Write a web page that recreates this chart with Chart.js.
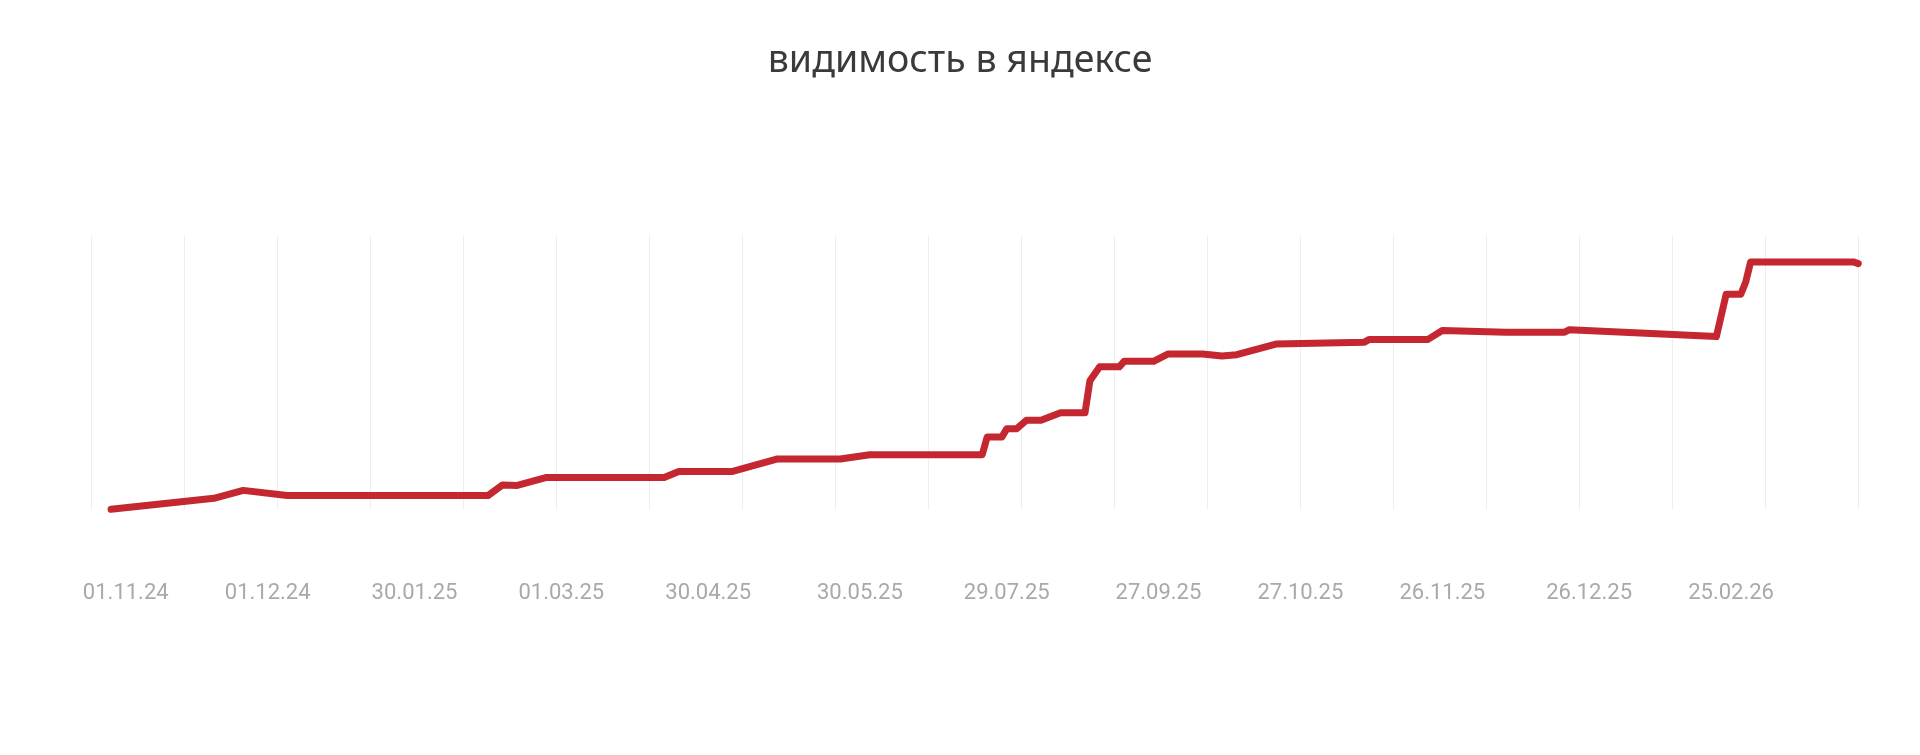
<!DOCTYPE html>
<html lang="ru">
<head>
<meta charset="utf-8">
<title>видимость в яндексе</title>
<script src="https://cdn.jsdelivr.net/npm/chart.js@4.4.1/dist/chart.umd.min.js"></script>
<style>
    html, body { margin: 0; padding: 0; background: #fff; }
    #wrap { width: 1920px; height: 755px; position: relative; }
</style>
</head>
<body>
<div id="wrap"><canvas id="visChart"></canvas></div>
<script>
// номер замера (точки перелома линии) и видимость, условные единицы 0..100
const idx = [4, 25, 31, 40, 81, 84, 87, 93, 117, 120, 131, 140, 153, 159, 182, 183, 186, 187, 189, 191,
    194, 198, 203, 204, 206, 210, 211, 217, 220, 227, 231, 234, 242, 260, 261, 273, 276, 289, 301, 302,
    332, 334, 337, 338, 339, 360, 361];
const vis = [0.1, 4.1, 7.0, 5.1, 5.1, 9.0, 8.8, 11.7, 11.7, 13.9, 13.9, 18.4, 18.4, 20.0, 20.0, 26.4, 26.4, 29.4, 29.4, 32.5,
    32.5, 35.3, 35.3, 46.9, 52.0, 52.0, 54.0, 54.0, 56.7, 56.7, 55.9, 56.4, 60.3, 60.9, 61.9, 61.9, 65.2, 64.6, 64.6, 65.5,
    63.0, 78.4, 78.4, 82.9, 90.2, 90.2, 89.6];

// подписи оси X
const tickPos = [7, 36, 66, 96, 126, 157, 187, 218, 247, 276, 306, 335];
const tickLabels = ['01.11.24', '01.12.24', '30.01.25', '01.03.25', '30.04.25', '30.05.25',
    '29.07.25', '27.09.25', '27.10.25', '26.11.25', '26.12.25', '25.02.26'];

// вертикальная сетка
const gridStep = 19;
const xMax = 361;

const points = idx.map((x, i) => ({x: x, y: vis[i]}));
const gridTicks = [];
for (let v = 0; v <= xMax; v += gridStep) gridTicks.push(v);

// узкий шрифт для подписей, если есть в системе
function hasFont(name) {
    const ctx = document.createElement('canvas').getContext('2d');
    ctx.font = '40px monospace';
    const a = ctx.measureText('01.11.24').width;
    ctx.font = '40px "' + name + '", monospace';
    return ctx.measureText('01.11.24').width !== a;
}
const tickFont = hasFont('Liberation Sans Narrow')
    ? {family: '"Liberation Sans Narrow", sans-serif', size: 25}
    : {family: 'Roboto, sans-serif', size: 22};

new Chart(document.getElementById('visChart'), {
    type: 'line',
    data: {
        datasets: [{
            label: 'видимость',
            data: points,
            borderColor: '#c4272f',
            borderWidth: 7,
            borderCapStyle: 'round',
            borderJoinStyle: 'round',
            pointRadius: 0,
            tension: 0,
            fill: false,
            clip: false
        }]
    },
    options: {
        responsive: true,
        maintainAspectRatio: false,
        animation: false,
        layout: {
            padding: {left: 61.7, right: 61.7, top: 0, bottom: 77}
        },
        plugins: {
            legend: {display: false},
            tooltip: {enabled: false},
            title: {
                display: true,
                text: 'видимость в яндексе',
                color: '#3a3a3a',
                font: {family: '"Noto Sans", sans-serif', size: 37.5, weight: 'normal'},
                padding: {top: 39, bottom: 151}
            }
        },
        scales: {
            x: {
                type: 'linear',
                min: 0,
                max: xMax,
                grid: {display: false, drawTicks: false},
                border: {display: false},
                afterBuildTicks: s => { s.ticks = tickPos.map(v => ({value: v})); },
                ticks: {
                    autoSkip: false,
                    maxRotation: 0,
                    padding: 71,
                    color: '#a9a9a9',
                    font: tickFont,
                    callback: (value, i) => tickLabels[i]
                }
            },
            xg: {
                type: 'linear',
                position: 'top',
                min: 0,
                max: xMax,
                afterBuildTicks: s => { s.ticks = gridTicks.map(v => ({value: v})); },
                grid: {color: '#eeeeee', lineWidth: 1, drawTicks: false},
                border: {display: false},
                ticks: {display: false}
            },
            y: {
                min: 0,
                max: 100,
                grid: {display: false, drawTicks: false},
                border: {display: false},
                ticks: {display: false},
                afterFit: s => { s.width = 29.8; }
            }
        }
    }
});
</script>
</body>
</html>
